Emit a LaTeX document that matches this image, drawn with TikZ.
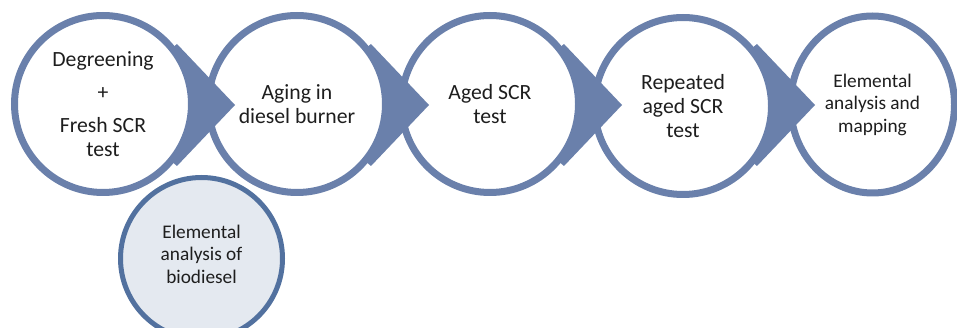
\documentclass[tikz,border=0pt]{standalone}
\usepackage{fontspec}
\setmainfont{Carlito}
\usetikzlibrary{calc,shapes.geometric}
\definecolor{cblue}{RGB}{106,128,171}
\definecolor{dblue}{RGB}{82,113,159}
\definecolor{lfill}{RGB}{228,233,240}
\definecolor{txt}{RGB}{30,30,30}
\tikzset{
  stepcirc/.style={circle, draw=cblue, line width=7pt, fill=white, minimum size=177pt,
    inner sep=0pt, align=center, text=txt, font=\fontsize{21.7}{24}\selectfont},
  lastcirc/.style={ellipse, draw=cblue, line width=7pt, fill=white, minimum width=164pt,
    minimum height=177pt, inner sep=0pt, align=center, text=txt, font=\fontsize{19.3}{22.5}\selectfont},
  sidecirc/.style={circle, draw=dblue, line width=5pt, fill=lfill, minimum size=162pt,
    inner sep=0pt},
  sidetext/.style={align=center, text=txt, inner sep=0pt, font=\fontsize{19.3}{22.5}\selectfont},
  arrowtri/.style={fill=cblue}
}
\begin{document}
\begin{tikzpicture}[x=1pt,y=-1pt]
\useasboundingbox (0,0) rectangle (957,328);
\coordinate (p1) at (103,104);
\coordinate (p2) at (297,104);
\coordinate (p3) at (490,104);
\coordinate (p4) at (683,104);
\coordinate (p5) at (872.5,104.5);
% circles drawn right to left so that each arrow lies above the next circle
\node[lastcirc] (c5) at (p5) {Elemental\\analysis and\\mapping};
\fill[arrowtri] ($(p4)+(132,1)$) -- ($(p4)+(74,-60)$) -- (p4) -- ($(p4)+(74,62)$) -- cycle;
\node[stepcirc] (c4) at ($(p4)+(0,2)$) {Repeated\\aged SCR\\test};
\fill[arrowtri] ($(p3)+(132,1)$) -- ($(p3)+(74,-60)$) -- (p3) -- ($(p3)+(74,62)$) -- cycle;
\node[stepcirc] (c3) at (p3) {Aged SCR\\test};
\fill[arrowtri] ($(p2)+(132,1)$) -- ($(p2)+(74,-60)$) -- (p2) -- ($(p2)+(74,62)$) -- cycle;
\node[stepcirc] (c2) at (p2) {Aging in\\diesel burner};
\fill[arrowtri] ($(p1)+(132,1)$) -- ($(p1)+(74,-60)$) -- (p1) -- ($(p1)+(74,62)$) -- cycle;
\node[stepcirc] (c1) at (p1) {Degreening\\[9pt]+\\[9pt]Fresh SCR\\test};
\node[sidecirc] (c6) at (201.5,258.5) {};
\node[sidetext] (t6) at ($(c6.center)+(0,-4.5)$) {Elemental\\analysis of\\biodiesel};
\end{tikzpicture}
\end{document}
